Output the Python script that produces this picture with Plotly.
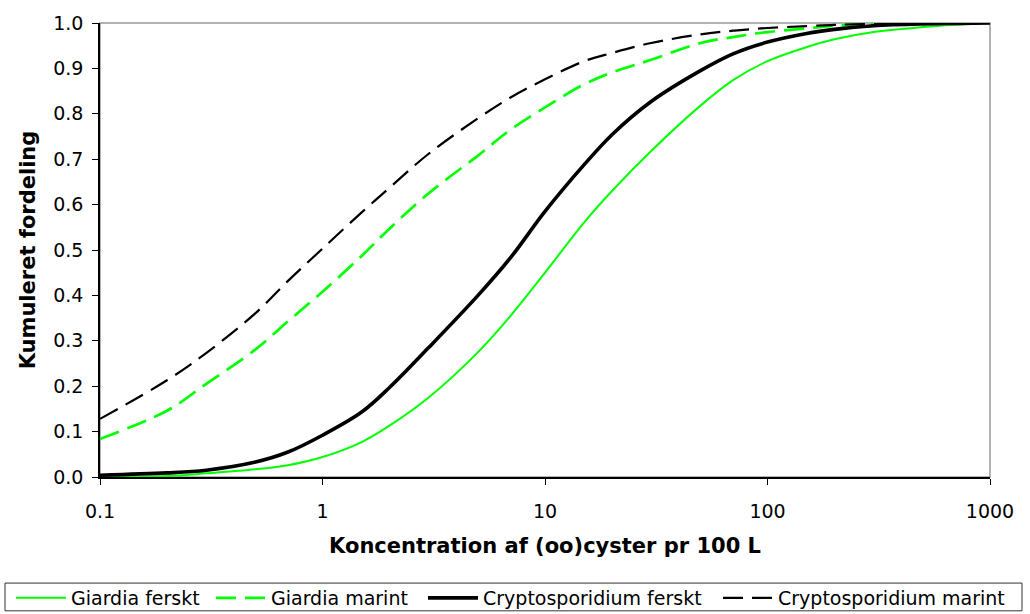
import plotly.graph_objects as go

# Concentration (oo)cysts per 100 L
conc = [0.1, 0.2, 0.3, 0.5, 0.7, 1, 1.5, 2, 3, 5, 7, 10, 15, 20, 30, 50, 70, 100, 150, 200, 300, 500, 700, 1000]

giardia_ferskt = [0.0, 0.002, 0.008, 0.017, 0.026, 0.044, 0.077, 0.113, 0.175, 0.275, 0.355, 0.45,
                  0.561, 0.63, 0.718, 0.818, 0.874, 0.916, 0.947, 0.964, 0.98, 0.991, 0.996, 1.0]
giardia_marint = [0.084, 0.146, 0.205, 0.281, 0.343, 0.408, 0.487, 0.547, 0.625, 0.708, 0.765, 0.814,
                  0.865, 0.891, 0.919, 0.956, 0.969, 0.98, 0.988, 0.994, 0.997, 0.999, 1.0, 1.0]
crypto_ferskt = [0.004, 0.009, 0.015, 0.033, 0.055, 0.092, 0.143, 0.197, 0.285, 0.40, 0.483, 0.585,
                 0.688, 0.754, 0.827, 0.895, 0.932, 0.958, 0.977, 0.986, 0.994, 0.998, 0.999, 1.0]
crypto_marint = [0.128, 0.213, 0.273, 0.361, 0.432, 0.503, 0.583, 0.637, 0.712, 0.79, 0.836, 0.876,
                 0.916, 0.934, 0.956, 0.975, 0.983, 0.989, 0.993, 0.996, 0.998, 0.999, 1.0, 1.0]

series_names = ["Giardia ferskt", "Giardia marint", "Cryptosporidium ferskt", "Cryptosporidium marint"]

x_tickvals = [0.1, 1, 10, 100, 1000]
x_ticktext = ["0.1", "1", "10", "100", "1000"]
y_tickvals = [0.0, 0.1, 0.2, 0.3, 0.4, 0.5, 0.6, 0.7, 0.8, 0.9, 1.0]

GREEN = "#00ff00"
FONT = "DejaVu Sans, Liberation Sans, Arial, sans-serif"
DASH = "20px,9px"

series = [
    (giardia_ferskt, dict(color=GREEN, width=2)),
    (giardia_marint, dict(color=GREEN, width=2.7, dash=DASH)),
    (crypto_ferskt, dict(color="black", width=3.6)),
    (crypto_marint, dict(color="black", width=2.2, dash=DASH)),
]
legend_ids = ["legend", "legend2", "legend3", "legend4"]
legend_left_px = [11, 211, 423, 718]

fig = go.Figure()
for (vals, ln), name, lid in zip(series, series_names, legend_ids):
    fig.add_trace(go.Scatter(x=conc, y=vals, mode="lines", name=name, legend=lid,
                             line=dict(shape="spline", smoothing=1.0, **ln)))

# gray frame on top/right
fig.add_shape(type="rect", xref="paper", yref="paper", x0=0, y0=0, x1=1, y1=1,
              line=dict(color="#999999", width=1.5), layer="below")
# legend frame
W, H = 1030, 614
L, R, T, B = 100, 40, 19, 137
pw, ph = W - L - R, H - T - B
fig.add_shape(type="rect", xref="paper", yref="paper",
              x0=(5 - L) / pw, x1=(1022 - L) / pw,
              y0=(H - B - 584) / ph, y1=(H - B - 612) / ph,
              line=dict(color="#333333", width=1), fillcolor="white", layer="below")

legend_common = dict(orientation="h", xref="container", yref="container", xanchor="left",
                     y=(H - 598) / H, yanchor="middle", borderwidth=0,
                     font=dict(size=19, family=FONT), itemwidth=50, bgcolor="rgba(0,0,0,0)")
legends = {lid: dict(x=px / W, **legend_common) for lid, px in zip(legend_ids, legend_left_px)}

fig.update_layout(
    width=W, height=H,
    margin=dict(l=L, r=R, t=T, b=B),
    paper_bgcolor="white", plot_bgcolor="white",
    font=dict(family=FONT, color="black", size=19),
    showlegend=True,
    xaxis=dict(type="log", range=[-1, 3], tickvals=x_tickvals, ticktext=x_ticktext,
               showgrid=False, zeroline=False, showline=True, linecolor="black", linewidth=1.5,
               ticks="outside", ticklen=6, tickcolor="black", tickfont=dict(size=19),
               ticklabelstandoff=10,
               title=dict(text="<b>Koncentration af (oo)cyster pr 100 L</b>", font=dict(size=21), standoff=18)),
    yaxis=dict(range=[0, 1], tickvals=y_tickvals, tickformat=".1f",
               showgrid=False, zeroline=False, showline=True, linecolor="black", linewidth=1.5,
               ticks="outside", ticklen=6, tickcolor="black", tickfont=dict(size=19),
               ticklabelstandoff=5,
               title=dict(text="<b>Kumuleret fordeling</b>", font=dict(size=21), standoff=12)),
    **legends,
)

fig.write_html("out.html")
